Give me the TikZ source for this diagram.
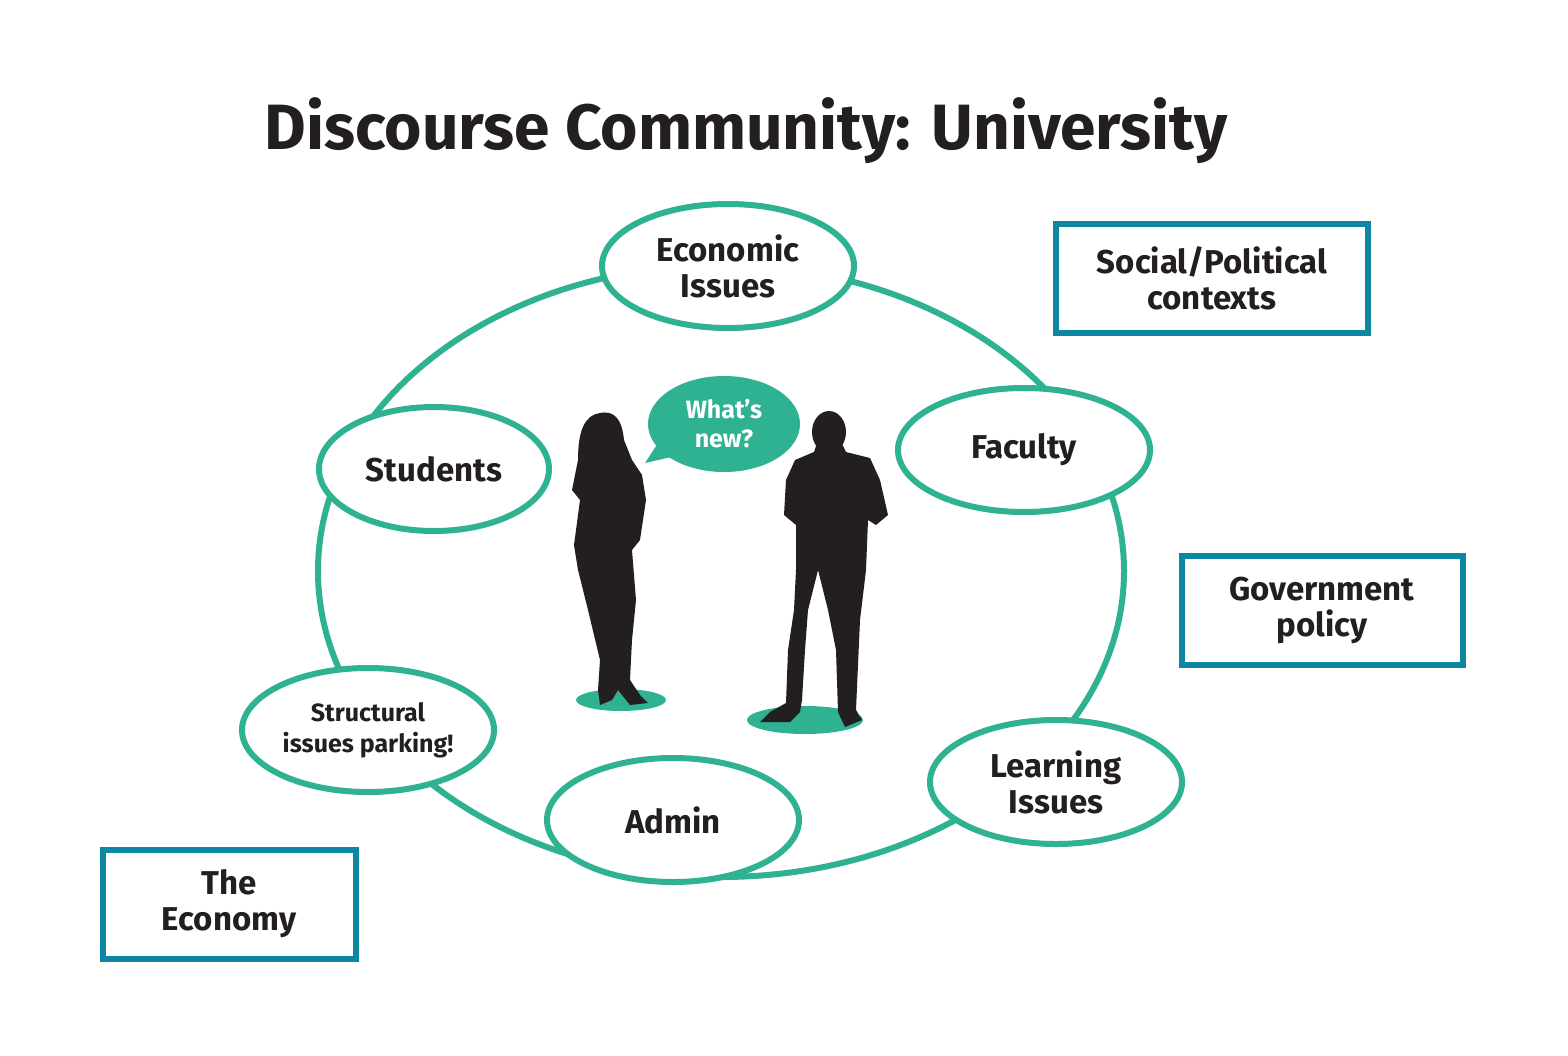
\documentclass[tikz,border=0pt]{standalone}
\usepackage{fontspec}
\setmainfont{Fira Sans}
\usetikzlibrary{shapes.geometric}
\definecolor{teal}{RGB}{46,178,145}
\definecolor{boxblue}{RGB}{14,135,163}
\definecolor{ink}{RGB}{35,31,32}
\tikzset{
 ell/.style={ellipse,draw=teal,line width=6pt,fill=white,minimum width=252pt,minimum height=124pt,align=center,font=\fontsize{33}{36}\selectfont\bfseries,text=ink},
 ctx/.style={rectangle,draw=boxblue,line width=6pt,fill=white,align=center,font=\fontsize{33}{36}\selectfont\bfseries,text=ink},
}
\begin{document}
\begin{tikzpicture}[x=1pt,y=-1pt]
\useasboundingbox[fill=white] (0,0) rectangle (1568,1055);
\node[font=\fontsize{64}{70}\selectfont\bfseries,text=ink] (title) at (746,131) {Discourse Community: University};
\draw[teal,line width=6pt] (721,571) ellipse [x radius=403,y radius=306];
\node[ell] (econ) at (728,266) {Economic\\Issues};
\node[ell,minimum width=230pt] (stud) at (434,469) {Students};
\node[ell] (fac) at (1024,450) {Faculty};
\node[ell,font=\fontsize{25}{31}\selectfont\bfseries] (struct) at (368,730) {Structural\\issues parking!};
\node[ell] (admin) at (673,820) {Admin};
\node[ell] (learn) at (1056,782) {Learning\\Issues};
\node[ctx,minimum width=312pt,minimum height=109pt] (soc) at (1212,278) {Social/Political\\contexts};
\node[ctx,minimum width=281pt,minimum height=109pt] (gov) at (1322,610) {Government\\policy};
\node[ctx,minimum width=253pt,minimum height=109pt] (eco) at (229,904) {The\\Economy};
% speech bubble
\fill[teal] (660,440) -- (645,463) -- (680,455) -- cycle;
\node[ellipse,fill=teal,minimum width=152pt,minimum height=96pt,align=center,text=white,font=\fontsize{25}{29}\selectfont\bfseries] (bub) at (724,424) {What’s\\new?};
% shadows
\fill[teal] (621,700) ellipse [x radius=45,y radius=11];
\fill[teal] (805,720) ellipse [x radius=58,y radius=14];
% woman
\fill[ink] (600,413) .. controls (615,410) and (622,420) .. (624,440) -- (632,460) -- (642,475) -- (646,500) -- (640,540) -- (632,550) -- (636,600) -- (632,640) -- (630,680) -- (640,695) -- (648,703) -- (630,705) -- (618,690) -- (612,700) -- (600,705) -- (598,690) -- (600,660) -- (588,610) -- (578,570) -- (574,545) -- (580,500) -- (572,490) -- (578,460) .. controls (578,430) and (585,415) .. (600,413) -- cycle;
% man
\fill[ink] (829,432) ellipse [x radius=17,y radius=21];
\fill[ink] (818,440) -- (840,440) -- (846,452) -- (870,458) -- (880,480) -- (888,515) -- (876,525) -- (868,520) -- (866,570) -- (860,620) -- (858,665) -- (856,710) -- (862,720) -- (845,727) -- (838,712) -- (836,650) -- (828,610) -- (818,570) -- (808,610) -- (805,650) -- (802,700) -- (800,712) -- (790,722) -- (760,722) -- (770,712) -- (786,703) -- (788,650) -- (794,610) -- (796,570) -- (796,525) -- (784,515) -- (786,480) -- (795,460) -- (814,452) -- cycle;
\end{tikzpicture}
\end{document}
